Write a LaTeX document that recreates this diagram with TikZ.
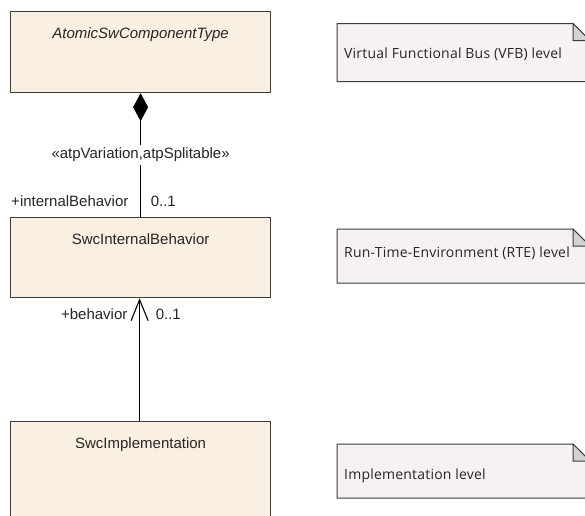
\documentclass[tikz,border=0pt]{standalone}
\usepackage{fontspec}
\setmainfont{Liberation Sans}
\newfontfamily\notefont[LetterSpace=1.5]{Open Sans}
\usetikzlibrary{arrows.meta}

\definecolor{clsfill}{RGB}{250,240,226}
\definecolor{notefill}{RGB}{245,241,244}
\definecolor{earfill}{RGB}{212,210,212}
\definecolor{border}{RGB}{60,60,60}

\tikzset{
  cls/.style={draw=border, fill=clsfill, line width=1.2pt, anchor=north west,
    minimum width=260pt, inner xsep=0pt, inner ysep=0pt, text height=27pt,
    text depth=#1, font=\fontsize{15}{18}\selectfont, text=black!85},
  cls/.default=54pt,
  notebox/.style={draw=border, fill=notefill, line width=1pt},
  notetext/.style={anchor=base west, inner sep=0pt, font=\notefont\fontsize{14}{16}\selectfont, text=black!85},
  role/.style={inner sep=0pt, font=\fontsize{15}{18}\selectfont, text=black!85},
  comp/.style={draw=black, line width=1.1pt, {Diamond[length=28pt,width=15pt]}-},
  nav/.style={draw=black, line width=1.1pt, -{Straight Barb[length=21pt,width=17pt,line width=1.1pt]}},
}

\begin{document}
\begin{tikzpicture}[x=1pt, y=-1pt]
  \useasboundingbox (0,0) rectangle (585,515);
  \clip (0,0) rectangle (585,515);

  % classes
  \node[cls] (atomic) at (10,11) {\itshape AtomicSwComponentType};
  \node[cls=53pt] (intbeh) at (10,217) {SwcInternalBehavior};
  \node[cls=100pt] (impl) at (10,421) {SwcImplementation};

  % composition
  \draw[comp] (atomic.south) -- (intbeh.north)
    node[pos=0.5, role, fill=white, inner ysep=3pt] {«atpVariation,atpSplitable»};
  \node[role, anchor=base east] (ibrole) at ([xshift=-12pt, yshift=11pt]intbeh.north) {+internalBehavior};
  \node[role, anchor=base west] (ibmult) at ([xshift=10pt, yshift=11pt]intbeh.north) {0..1};

  % navigable association
  \draw[nav] ([xshift=-1pt]impl.north) -- ([xshift=-1pt]intbeh.south);
  \node[role, anchor=base east] (behrole) at ([xshift=-13pt, yshift=-21.5pt]intbeh.south) {+behavior};
  \node[role, anchor=base west] (behmult) at ([xshift=15pt, yshift=-21.5pt]intbeh.south) {0..1};

  % notes
  \foreach \name/\y/\h/\b/\txt in {vfb/23.5/58/34.5/{Virtual Functional Bus (VFB) level},
      rte/229/54/28/{Run-Time-Environment (RTE) level},
      lvl/444/54/35/{Implementation level}} {
    \draw[notebox] (337,\y) -- (573,\y) -- (590,\y+17) -- (590,\y+\h) -- (337,\y+\h) -- cycle;
    \draw[notebox, fill=earfill] (573,\y) -- (573,\y+17) -- (590,\y+17) -- cycle;
    \node[notetext] (\name) at (344,\y+\b) {\txt};
  }
\end{tikzpicture}
\end{document}
